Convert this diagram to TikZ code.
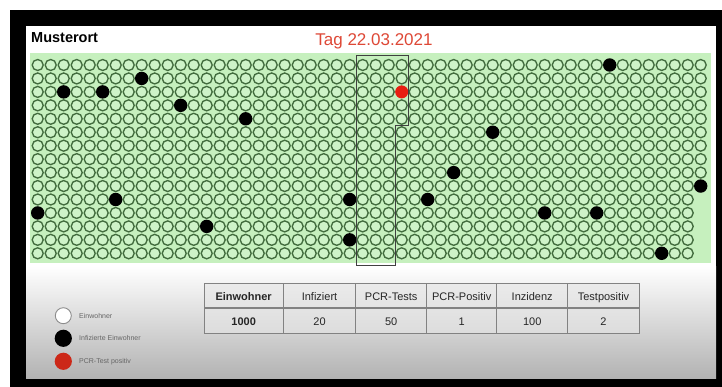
\documentclass[tikz,border=0pt]{standalone}
\usepackage{fontspec}
\setmainfont{Liberation Sans}
\usetikzlibrary{positioning}

\definecolor{gridbg}{RGB}{198,240,190}
\definecolor{ringgreen}{RGB}{66,108,62}
\definecolor{ringfill}{RGB}{206,243,200}
\definecolor{tagred}{RGB}{222,72,54}
\definecolor{dotred}{RGB}{232,30,18}
\definecolor{legred}{RGB}{204,40,24}
\definecolor{tabline}{RGB}{130,130,130}

\begin{document}
\begin{tikzpicture}[x=1pt,y=-1pt,
  ring/.style={draw=ringgreen,fill=ringfill,line width=1.35pt},
  infected/.style={fill=black},
  positive/.style={fill=dotred},
  selbox/.style={draw=black!75,line width=0.9pt},
  tabrule/.style={draw=tabline,line width=0.9pt},
  tabthick/.style={draw=tabline,line width=1.5pt},
  cell/.style={anchor=base,inner sep=0pt,text=black!85,font=\fontsize{11}{13}\selectfont},
  legtext/.style={anchor=base west,inner sep=0pt,text=black!60,font=\fontsize{7}{8}\selectfont}]
\useasboundingbox (0,0) rectangle (722,387);
% screen frame and slide
\fill[white] (0,0) rectangle (722,387);
\fill[black] (10,10) rectangle (722,387);
\fill[white] (26,26) rectangle (716,266);
\shade[top color=white,bottom color=black!30] (26,266) rectangle (716,378);
% titles
\node[anchor=base west,inner sep=0pt,font=\bfseries\fontsize{14.5}{17}\selectfont] (ort) at (31,42.7) {Musterort};
\node[anchor=base,inner sep=0pt,text=tagred,font=\fontsize{17}{20}\selectfont] (tag) at (374,46) {Tag 22.03.2021};
% residents
\fill[gridbg] (30,53) rectangle (711,263);
\foreach \r in {0,...,14} {
  \pgfmathtruncatemacro\ncol{\r<10 ? 51 : 50}
  \foreach \c in {0,...,\ncol}
    \draw[ring] ({37.7+13*\c},{65+13.45*\r}) circle (5.5pt);
}
\foreach \c/\r in {2/2, 5/2, 8/1, 11/3, 16/4, 44/0, 35/5, 32/8, 0/11, 6/10,
                   13/12, 24/10, 24/13, 30/10, 39/11, 43/11, 51/9, 48/14} {
  \fill[infected] ({37.7+13*\c},{65+13.45*\r}) circle (6.7pt);
}
\fill[positive] ({37.7+13*28},{65+13.45*2}) circle (6.5pt);
% tested block
\draw[selbox] (356,55) -- (408,55) -- (408,125.5) -- (395,125.5) -- (395,265) -- (356,265) -- cycle;
% legend
\draw[draw=black!45,fill=white,line width=0.9pt] (63.3,315.7) circle (8pt);
\fill[black] (63.3,338.3) circle (8.6pt);
\fill[legred] (63.3,361.3) circle (8.6pt);
\node[legtext] (l1) at (79,318.2) {Einwohner};
\node[legtext] (l2) at (79,340.8) {Infizierte Einwohner};
\node[legtext] (l3) at (79,363.8) {PCR-Test positiv};
% table
\fill[black!10,opacity=0.6] (204,283) rectangle (639.3,333);
\foreach \xl/\xr/\head/\val [count=\i] in {204/283.3/\textbf{Einwohner}/\textbf{1000},
    283.3/355.7/Infiziert/20, 355.7/426.7/PCR-Tests/50, 426.7/496.7/PCR-Positiv/1,
    496.7/567.7/Inzidenz/100, 567.7/639.3/Testpositiv/2} {
  \node[cell] (head\i) at ({(\xl+\xr)/2},300.5) {\head};
  \node[cell] (val\i) at ({(\xl+\xr)/2},325) {\val};
}
\foreach \x in {355.7,426.7,496.7,567.7}
  \draw[tabrule] (\x,283) -- (\x,333);
\draw[tabthick] (283.3,283) -- (283.3,333);
\draw[tabthick] (204,308) -- (639.3,308);
\draw[tabrule] (204,283) rectangle (639.3,333);
\end{tikzpicture}
\end{document}
